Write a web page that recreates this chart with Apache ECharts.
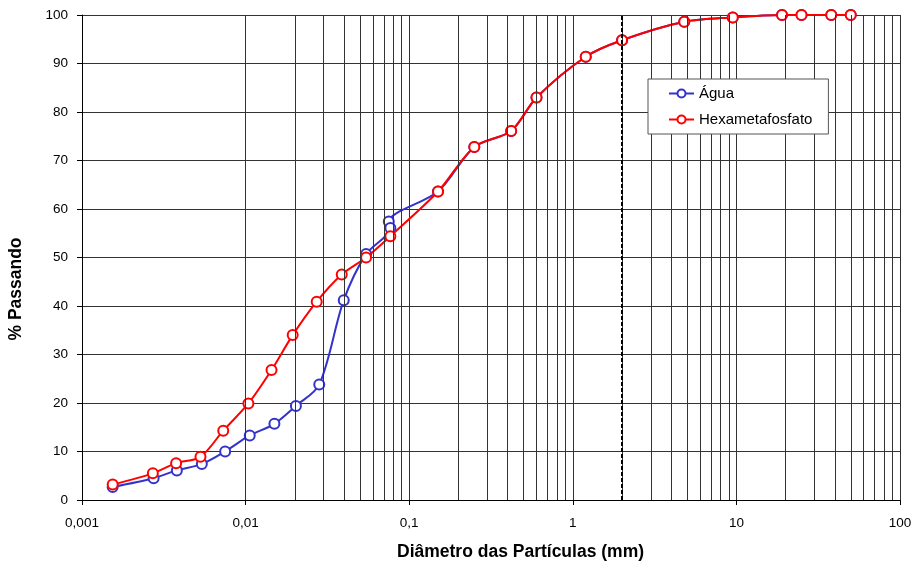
<!DOCTYPE html>
<html>
<head>
<meta charset="utf-8">
<script src="https://cdn.jsdelivr.net/npm/echarts@6/dist/echarts.min.js"></script>
<style>
html,body{margin:0;padding:0;background:#fff;}
#chart{width:915px;height:568px;}
</style>
</head>
<body>
<div id="chart"></div>
<script>
// ---- data ----
const seriesNames = ['Água', 'Hexametafosfato'];
const aguaX = [50, 38, 25, 19, 9.5, 4.8, 2.0, 1.2, 0.6, 0.42, 0.25, 0.15, 0.075, 0.0767, 0.0545, 0.0398, 0.0282, 0.0203, 0.0150, 0.0106, 0.0075, 0.0054, 0.0038, 0.00274, 0.00154];
const aguaY = [100, 100, 100, 100, 99.5, 98.6, 94.8, 91.4, 83.0, 76.1, 72.8, 63.6, 57.4, 56.1, 50.7, 41.2, 23.8, 19.4, 15.7, 13.3, 10.0, 7.4, 6.1, 4.5, 2.7];
const hexaX = [50, 38, 25, 19, 9.5, 4.8, 2.0, 1.2, 0.6, 0.42, 0.25, 0.15, 0.0767, 0.0545, 0.0387, 0.0272, 0.0194, 0.0144, 0.0104, 0.0073, 0.0053, 0.00376, 0.00271, 0.00154];
const hexaY = [100, 100, 100, 100, 99.5, 98.6, 94.8, 91.4, 83.0, 76.1, 72.8, 63.6, 54.4, 50.0, 46.5, 40.9, 34.0, 26.8, 19.9, 14.3, 8.9, 7.6, 5.5, 3.2];
const xTickLabels = ['0,001', '0,01', '0,1', '1', '10', '100'];
const decades = [0.001, 0.01, 0.1, 1, 10];
const minorMultipliers = [2, 3, 4, 5, 6, 7, 8, 9];
const dashedLineX = 2.0;
const xTitle = 'Diâmetro das Partículas (mm)';
const yTitle = '% Passando';

const minorLines = [];
decades.forEach(d => minorMultipliers.forEach(m => minorLines.push({ xAxis: +(d * m).toPrecision(6) })));

const gridColor = '#333';
const font = '"Liberation Sans", Arial, sans-serif';

const chart = echarts.init(document.getElementById('chart'), null, { renderer: 'canvas' });
chart.setOption({
  animation: false,
  backgroundColor: '#fff',
  grid: { left: 82, right: 15, top: 15, bottom: 68, containLabel: false },
  xAxis: {
    type: 'log', logBase: 10, min: 0.001, max: 100,
    axisLine: { show: true, onZero: false, lineStyle: { color: '#000', width: 1 } },
    axisTick: { show: true, length: 5, inside: false, lineStyle: { color: '#000' } },
    axisLabel: {
      margin: 16, color: '#000', fontSize: 13.5, fontFamily: font,
      formatter: v => xTickLabels[Math.round(Math.log10(v)) + 3]
    },
    splitLine: { show: true, lineStyle: { color: gridColor, width: 1 } }
  },
  yAxis: {
    type: 'value', min: 0, max: 100, interval: 10,
    axisLine: { show: true, lineStyle: { color: '#000', width: 1 } },
    axisTick: { show: true, length: 5, inside: false, lineStyle: { color: '#000' } },
    axisLabel: { margin: 14, color: '#000', fontSize: 13.5, fontFamily: font },
    splitLine: { show: true, lineStyle: { color: gridColor, width: 1 } }
  },
  legend: {
    data: seriesNames,
    orient: 'vertical',
    left: 648, top: 79, z: 20,
    backgroundColor: '#fff',
    borderColor: '#555', borderWidth: 1, borderRadius: 0,
    padding: [7, 16, 7, 20],
    itemGap: 11,
    itemWidth: 25, itemHeight: 10,
    textStyle: { fontSize: 15, color: '#000', fontFamily: font }
  },
  graphic: [
    { type: 'text', left: 523 - 126, top: 543, style: { text: xTitle, font: 'bold 17.5px ' + font, fill: '#000' } },
    { type: 'text', x: 7, y: 289, rotation: Math.PI / 2, style: { text: yTitle, font: 'bold 17.5px ' + font, fill: '#000', textAlign: 'center', textVerticalAlign: 'top' } }
  ],
  series: [
    {
      name: '_grid', type: 'line', data: [], z: 1, silent: true,
      markLine: {
        silent: true, symbol: ['none', 'none'], label: { show: false },
        lineStyle: { color: gridColor, type: 'solid', width: 1 },
        emphasis: { disabled: true },
        data: minorLines.concat([{ xAxis: dashedLineX, lineStyle: { color: '#000', type: [4, 2], width: 2 } }])
      }
    },
    {
      name: seriesNames[0], type: 'line', z: 3,
      data: aguaX.map((x, i) => [x, aguaY[i]]),
      smooth: 0.3, showAllSymbol: true,
      symbol: 'emptyCircle', symbolSize: 10,
      lineStyle: { color: '#3333CC', width: 2 },
      itemStyle: { color: '#3333CC', borderWidth: 1 }
    },
    {
      name: seriesNames[1], type: 'line', z: 4,
      data: hexaX.map((x, i) => [x, hexaY[i]]),
      smooth: 0.3, showAllSymbol: true,
      symbol: 'emptyCircle', symbolSize: 10,
      lineStyle: { color: '#FF0000', width: 2 },
      itemStyle: { color: '#FF0000', borderWidth: 1 }
    }
  ]
});
</script>
</body>
</html>
